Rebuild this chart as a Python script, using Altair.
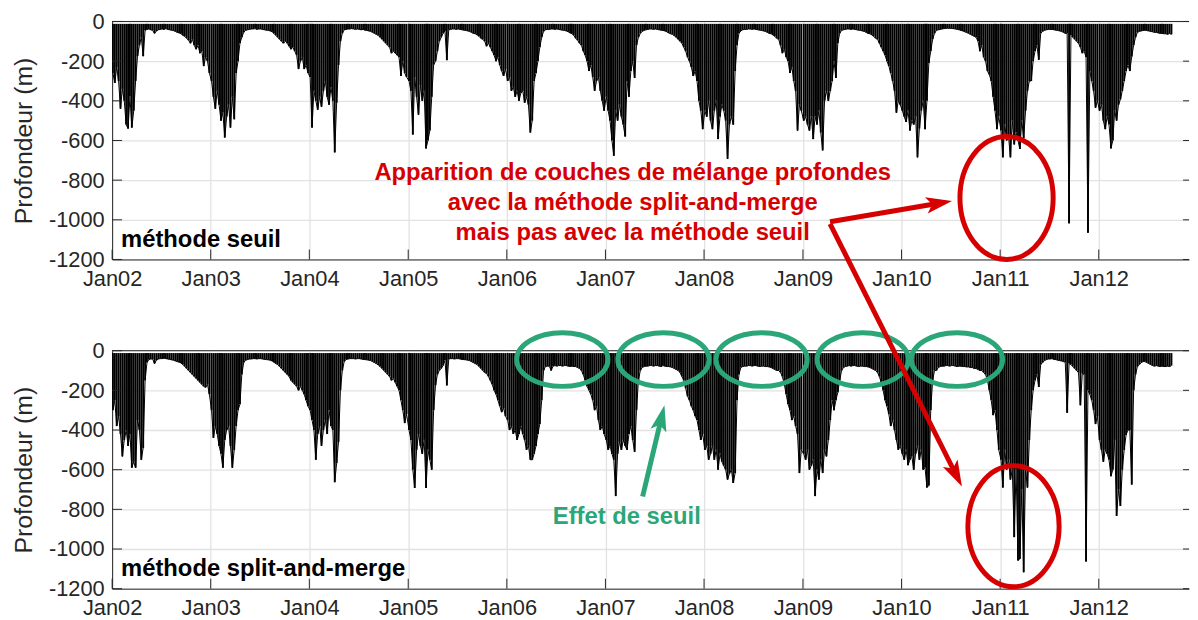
import math
import altair as alt
import pandas as pd

# ---------------- data (depths in m, positive downward; one value per week) ----------------
years = list(range(2002, 2013))

# méthode seuil (top panel)
seuil_2002 = [260,310,230,300, 440,340,400,520, 540,380,535,450,300, 175,120,80,175, 45,40,38,42,45, 60,48,42,40, 38,40,36,40,42, 44,46,50,55, 58,62,70,75, 85,95,110,90,120, 140,120,160,150, 225,180,200,260]
seuil_2003 = [300,380,440,350, 420,500,460,585, 480,420,535,380,493, 260,200,110,80, 55,45,42,40,38, 38,36,40,38, 38,40,42,44,45, 48,52,60,70, 80,90,100,110, 100,110,125,140,130, 150,170,240,200, 180,240,220,260]
seuil_2004 = [280,535,350,400, 445,380,430,350, 300,380,420,330,400, 660,410,220,100, 60,42,40,38,38, 36,38,40,38, 40,42,40,44,45, 48,50,55,60, 65,70,80,90, 100,110,120,130,160, 150,160,170,180, 275,200,260,280]
seuil_2005 = [300,350,570,280, 380,470,320,400, 350,640,600,550,380, 218,200,150,100, 80,60,48,195,42, 40,38,38,40, 38,40,42,44,45, 48,50,55,60, 62,68,75,85, 90,100,125,110,130, 150,170,200,180, 220,250,275,240]
seuil_2006 = [300,280,350,330, 380,350,400,360, 350,410,380,420,560, 500,300,260,200, 130,80,50,42,40, 40,38,38,40, 38,40,42,44,45, 48,52,58,62, 70,85,95,110, 120,150,170,200,250, 220,280,350,300, 280,350,400,450]
seuil_2007 = [380,450,500,600, 677,450,500,420, 480,520,580,300,380, 250,200,285,120, 80,60,50,45,42, 40,38,38,40, 38,40,42,44,45, 48,52,58,62, 65,72,80,90, 100,110,130,150,180, 200,230,275,250, 300,400,450,543]
seuil_2008 = [450,480,400,500, 543,450,400,593, 480,420,450,500,693, 520,480,520,250, 120,60,48,42,40, 40,38,38,40, 38,40,42,44,45, 48,50,55,60, 62,68,75,85, 90,120,160,140,180, 200,260,230,300, 350,550,420,450]
seuil_2009 = [500,480,520,550, 480,593,480,520, 450,560,650,400,350, 400,350,300,200, 285,110,60,45,42, 40,38,38,40, 38,40,42,44,45, 48,50,55,60, 62,68,75,85, 90,110,130,150,170, 200,225,260,300, 350,460,400,420]
seuil_2010 = [450,480,507,450, 550,500,520,480, 685,540,450,400,543, 400,210,150,90, 60,45,42,40,38, 36,35,34,35, 35,36,38,40,42, 45,48,52,56, 60,65,70,75, 80,100,150,120,180, 200,250,268,300, 380,450,543,480]
seuil_2011 = [550,685,520,600, 580,685,500,620, 560,600,643,500,590, 450,350,300,300, 200,150,120,193,60, 50,45,42,40, 40,40,42,44,45, 48,50,55,60, 60,1018,70,80, 90,100,110,130,160, 150,180,1065,250, 300,350,435,400]
seuil_2012 = [450,420,500,543, 480,520,640,600, 450,500,420,393,350, 300,250,220,250, 177,120,80,55,50, 48,45,44,46, 48,50,52,55,55, 58,60,60,62, 62,65,60,65]

# méthode split-and-merge (bottom panel)
sam_2002 = [300,250,380,330, 420,533,450,400, 480,420,590,560,590, 350,400,550,490, 150,60,45,42,42, 65,48,42,40, 40,38,40,42,44, 46,48,52,55, 58,62,70,80, 90,100,110,120,130, 140,150,160,170, 180,185,170,220]
sam_2003 = [300,440,380,420, 480,520,590,450, 400,380,480,590,500, 380,300,270,120, 60,48,45,42,42, 40,40,42,40, 40,42,44,45,46, 48,52,58,65, 70,80,90,100, 110,120,130,150,160, 170,180,200,180, 200,220,250,280]
sam_2004 = [300,350,400,550, 420,380,480,400, 350,420,300,380,400, 663,567,460,200, 100,55,45,42,40, 40,40,42,40, 40,42,44,45,46, 48,50,55,60, 65,72,80,90, 100,110,120,130,150, 140,160,180,200, 250,300,365,320]
sam_2005 = [400,450,600,692, 500,420,480,520, 450,692,500,550,600, 300,175,120,100, 90,75,50,175,42, 40,40,42,40, 40,42,44,45,46, 48,50,55,60, 65,70,80,90, 100,110,115,130,150, 170,200,220,250, 280,310,290,330]
sam_2006 = [350,400,380,420, 400,450,420,380, 420,450,500,480,550, 550,520,480,420, 370,250,100,80,78, 78,100,78,75, 78,75,75,78,75, 75,78,80,78, 80,80,85,90, 100,120,150,180,200, 220,250,300,280, 350,400,380,420]
sam_2007 = [450,500,480,520, 550,733,520,460, 500,450,480,500,420, 380,450,510,300, 150,100,85,80,78, 78,75,75,78, 75,75,78,80,75, 78,80,80,82, 85,90,95,100, 110,130,150,190,230, 250,280,300,330, 350,400,450,420]
sam_2008 = [500,480,550,520, 480,550,500,600, 520,560,580,600,650, 620,600,667,617, 250,120,85,80,78, 78,75,75,78, 75,75,78,80,78, 78,80,80,82, 85,90,95,100, 100,110,130,170,220, 270,300,350,330, 380,420,617,500]
sam_2009 = [520,550,500,600, 580,550,733,600, 650,550,617,500,533, 450,350,250,300, 250,210,150,100,85, 80,78,75,78, 75,75,78,80,78, 78,80,80,82, 85,90,95,100, 110,130,160,200,250, 280,320,380,350, 400,450,500,480]
sam_2010 = [520,550,500,577, 550,533,600,520, 480,550,500,600,590, 690,680,300,150, 100,100,85,80,78, 78,75,75,78, 75,75,78,80,78, 78,80,80,82, 82,85,85,90, 90,95,100,100,110, 120,150,200,250, 325,300,400,500]
sam_2011 = [550,690,500,600, 550,650,600,940, 600,1058,1050,700,1117, 600,690,450,300, 200,150,120,183,70, 60,50,45,42, 42,40,44,45,48, 50,52,55,58, 313,65,70,80, 90,100,110,275,115, 120,1063,200,220, 250,300,370,330]
sam_2012 = [450,500,560,500, 520,550,633,600, 450,833,700,783,600, 500,425,400,400, 675,200,120,80,70, 60,55,55,60, 65,70,75,78,75, 78,80,78,80, 80,78,80,75]

surface_depth = 12          # upper end of the mixed-layer band (m)
y_ticks = [0, -200, -400, -600, -800, -1000, -1200]

seuil = [seuil_2002, seuil_2003, seuil_2004, seuil_2005, seuil_2006, seuil_2007,
         seuil_2008, seuil_2009, seuil_2010, seuil_2011, seuil_2012]
sam = [sam_2002, sam_2003, sam_2004, sam_2005, sam_2006, sam_2007,
       sam_2008, sam_2009, sam_2010, sam_2011, sam_2012]


def build(series):
    rows = []
    for y, vals in zip(years, series):
        for i, v in enumerate(vals):
            rows.append({"date": pd.Timestamp(y, 1, 1) + pd.Timedelta(days=7 * i + 3),
                         "haut": -surface_depth, "bas": -v})
    return pd.DataFrame(rows)


df_seuil = build(seuil)
df_sam = build(sam)
tick_dates = pd.DataFrame({"date": [pd.Timestamp(y, 1, 1) for y in years]})
tick_vals = pd.DataFrame({"bas": y_ticks})
one = pd.DataFrame({"k": [0]})

# ---------------- styling ----------------
FONT = "Liberation Sans"
AX = "#262626"
RED = "#d60000"
GREEN = "#2ba678"
W, H = 1086, 240

xs = alt.Scale(domain=[alt.DateTime(year=2002, month=1, date=1),
                       alt.DateTime(year=2012, month=11, date=30)])
ys = alt.Scale(domain=[-1200, 0])
x_axis = alt.Axis(values=[alt.DateTime(year=y, month=1, date=1) for y in years],
                  format="%b%y", title=None, labelPadding=9, grid=True, ticks=False,
                  labelFlush=False, labelFontSize=22, labelFont=FONT, labelColor=AX,
                  domainColor=AX, gridColor="#e2e2e2", gridWidth=1.3)
y_axis = alt.Axis(values=y_ticks, title="Profondeur (m)", titlePadding=12, labelPadding=8,
                  labelExpr="'' + datum.value", grid=True, ticks=False,
                  labelFontSize=22, labelFont=FONT, labelColor=AX, domainColor=AX,
                  titleFont=FONT, titleFontSize=25, titleFontWeight="normal",
                  titleColor=AX, gridColor="#e2e2e2", gridWidth=1.3)


def ellipse_path(rx, ry):
    k = 0.5523
    f = lambda v: f"{v:.4f}"
    return (f"M{f(rx)},0 C{f(rx)},{f(k*ry)} {f(k*rx)},{f(ry)} 0,{f(ry)} "
            f"C{f(-k*rx)},{f(ry)} {f(-rx)},{f(k*ry)} {f(-rx)},0 "
            f"C{f(-rx)},{f(-k*ry)} {f(-k*rx)},{f(-ry)} 0,{f(-ry)} "
            f"C{f(k*rx)},{f(-ry)} {f(rx)},{f(-k*ry)} {f(rx)},0 Z")


def ellipse(cx, cy, rx, ry, color):
    r = max(rx, ry)
    return alt.Chart(one).mark_point(
        shape=ellipse_path(rx / r, ry / r), size=(2 * r) ** 2, filled=False,
        stroke=color, strokeWidth=5, opacity=1
    ).encode(x=alt.value(cx), y=alt.value(cy))


HEAD = "M0,-1 L0.55,0.75 L0,0.35 L-0.55,0.75 Z"
HEAD_UNIT = 15


def arrow(x0, y0, xt, yt, color):
    dx, dy = xt - x0, yt - y0
    L = math.hypot(dx, dy)
    ux, uy = dx / L, dy / L
    cx, cy = xt - HEAD_UNIT * ux, yt - HEAD_UNIT * uy
    ang = math.degrees(math.atan2(ux, -uy)) % 360
    line = alt.Chart(one).mark_rule(color=color, strokeWidth=5).encode(
        x=alt.value(x0), y=alt.value(y0), x2=alt.value(cx), y2=alt.value(cy))
    head = alt.Chart(one).mark_point(
        shape=HEAD, size=(2 * HEAD_UNIT) ** 2, filled=True, fill=color,
        strokeWidth=0, opacity=1, angle=ang
    ).encode(x=alt.value(cx), y=alt.value(cy))
    return [line, head]


def panel(df, label, extra):
    data = alt.Chart(df).mark_rule(color="black", strokeWidth=1.9).encode(
        x=alt.X("date:T", scale=xs, axis=x_axis),
        y=alt.Y("bas:Q", scale=ys, axis=y_axis),
        y2="haut:Q",
    )
    trace = alt.Chart(df).mark_line(color="black", strokeWidth=1).encode(
        x=alt.X("date:T", scale=xs, axis=x_axis),
        y=alt.Y("bas:Q", scale=ys, axis=y_axis),
    )
    xt = alt.Chart(tick_dates).mark_rule(color=AX).encode(
        x=alt.X("date:T", scale=xs, axis=x_axis), y=alt.value(H - 10), y2=alt.value(H))
    ytl = alt.Chart(tick_vals).mark_rule(color=AX).encode(
        y=alt.Y("bas:Q", scale=ys, axis=y_axis), x=alt.value(0), x2=alt.value(10))
    ytr = alt.Chart(tick_vals).mark_rule(color=AX).encode(
        y=alt.Y("bas:Q", scale=ys, axis=y_axis), x=alt.value(W - 6), x2=alt.value(W))
    border = alt.Chart(one).mark_rule(color=AX).encode(
        x=alt.value(0), x2=alt.value(W), y=alt.value(0))
    lab = alt.Chart(one).mark_text(
        text=label, align="left", baseline="alphabetic", font=FONT, fontSize=24,
        fontWeight="bold", color="black").encode(x=alt.value(9), y=alt.value(227))
    return alt.layer(data, trace, xt, ytl, ytr, border, lab, *extra).properties(width=W, height=H)


# top-panel annotations
red_text = alt.Chart(one).mark_text(
    text=["Apparition de couches de mélange profondes",
          "avec la méthode split-and-merge",
          "mais pas avec la méthode seuil"],
    align="center", baseline="alphabetic", font=FONT, fontSize=24, fontWeight="bold",
    color=RED, lineHeight=30).encode(x=alt.value(525), y=alt.value(160))
top_extra = [red_text, ellipse(902, 178, 47, 62, RED)]

# bottom-panel annotations (coordinates relative to bottom plot)
green_text = alt.Chart(one).mark_text(
    text="Effet de seuil", align="center", baseline="alphabetic", font=FONT,
    fontSize=24, fontWeight="bold", color=GREEN).encode(x=alt.value(519), y=alt.value(175))
bottom_extra = [ellipse(cx, 9, 46, 27, GREEN) for cx in [454, 556, 655, 757, 852]]
bottom_extra += [green_text, *arrow(535, 147, 557, 55, GREEN)]
bottom_extra += [ellipse(909, 177, 46, 61, RED)]
bottom_extra += arrow(724, -130, 847, -151, RED)
bottom_extra += arrow(724, -128, 857, 137, RED)

top = panel(df_seuil, "méthode seuil", top_extra)
bottom = panel(df_sam, "méthode split-and-merge", bottom_extra)

chart = alt.vconcat(top, bottom, spacing=92, bounds="flush").properties(
    padding={"left": 3, "top": 0, "right": 0, "bottom": 0}
).configure_view(stroke=None)

chart.save("out.html", embed_options={"renderer": "svg", "actions": False})
